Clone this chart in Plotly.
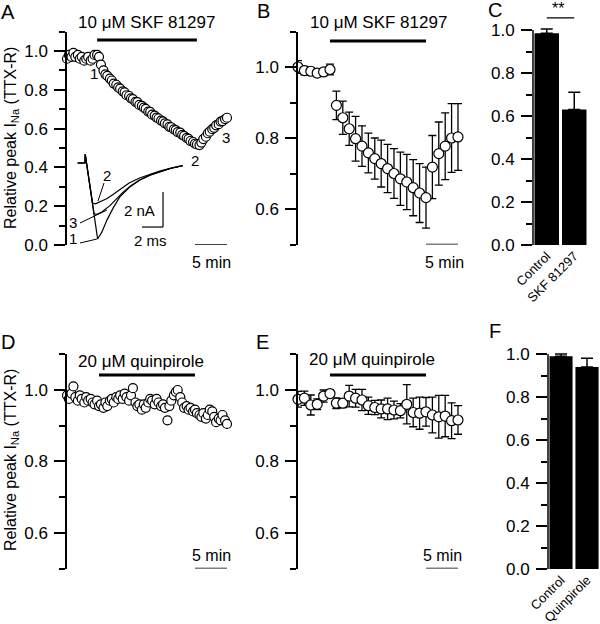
import plotly.graph_objs as go

FONT = "Arial, Liberation Sans, sans-serif"
W, H = 600, 624

# ---------------- data ----------------
# A: one cell, 10 uM SKF 81297 (min, relative peak INa)
time_cell = [0.0, 0.3, 0.7, 1.0, 1.3, 1.7, 2.0, 2.3, 2.7, 3.0, 3.3, 3.7, 4.0, 4.3, 4.7,
             5.0, 5.3, 5.7, 6.0, 6.3, 6.7, 7.0, 7.3, 7.7, 8.0, 8.3, 8.7, 9.0, 9.3, 9.7,
             10.0, 10.3, 10.7, 11.0, 11.3, 11.7, 12.0, 12.3, 12.7, 13.0, 13.3, 13.7, 14.0, 14.3, 14.7,
             15.0, 15.3, 15.7, 16.0, 16.3, 16.7, 17.0, 17.3, 17.7, 18.0, 18.3, 18.7, 19.0, 19.3, 19.7,
             20.0, 20.3, 20.7, 21.0, 21.3, 21.7, 22.0, 22.3, 22.7, 23.0, 23.3, 23.7, 24.0, 24.3, 24.7, 25.0]
skf_cell = [0.96, 0.98, 0.97, 0.99, 0.97, 0.98, 0.96, 0.97, 0.95, 0.96, 0.97, 0.95, 0.96, 0.98, 0.98,
            0.97, 0.93, 0.90, 0.88, 0.872, 0.858, 0.848, 0.832, 0.826, 0.812, 0.806, 0.792, 0.787, 0.772, 0.768,
            0.756, 0.752, 0.738, 0.736, 0.722, 0.717, 0.708, 0.702, 0.688, 0.686, 0.672, 0.667, 0.657, 0.652, 0.641,
            0.637, 0.627, 0.622, 0.609, 0.607, 0.596, 0.592, 0.582, 0.579, 0.568, 0.562, 0.552, 0.547, 0.536, 0.531,
            0.522, 0.518, 0.515, 0.528, 0.546, 0.558, 0.576, 0.584, 0.597, 0.604, 0.617, 0.623, 0.636, 0.639, 0.649, 0.656]

# A inset: TTX-R currents at time points 1, 2, 3 (ms, nA)
trace1_ms = [-0.7, 0.0, 0.02, 1.2, 1.6, 2.1, 2.7, 3.3, 4.2, 5.2, 6.2, 7.1, 8.2, 9.3]
trace1_na = [0.0, 0.0, 0.5, -4.34, -3.95, -3.25, -2.55, -1.95, -1.4, -0.98, -0.7, -0.5, -0.3, -0.15]
trace2_ms = [-0.7, 0.0, 0.02, 0.72, 1.0, 1.5, 2.1, 2.7, 3.3, 4.2, 5.2, 6.2, 7.1, 8.2, 9.3]
trace2_na = [0.0, 0.0, 0.5, -2.29, -2.33, -2.2, -2.03, -1.78, -1.52, -1.14, -0.86, -0.63, -0.46, -0.29, -0.15]
trace3_ms = [-0.7, 0.0, 0.02, 0.86, 1.15, 1.6, 2.4, 3.0, 3.6, 4.4, 5.2, 6.2, 7.1, 8.2, 9.3]
trace3_na = [0.0, 0.0, 0.5, -2.9, -2.93, -2.8, -2.42, -2.05, -1.68, -1.28, -0.97, -0.68, -0.49, -0.3, -0.15]

# B: pooled SKF 81297 (mean +/- sem)
time_pool = [0, 1, 2, 3, 4, 5, 6, 7, 8, 9, 10, 11, 12, 13, 14, 15, 16, 17, 18, 19, 20, 21, 22, 23, 24, 25]
skf_mean = [1.0, 0.99, 0.988, 0.983, 0.986, 0.993, 0.892, 0.857, 0.826, 0.798, 0.777, 0.758, 0.742,
            0.728, 0.714, 0.70, 0.685, 0.676, 0.66, 0.645, 0.632, 0.718, 0.756, 0.777, 0.80, 0.803]
skf_sem = [0.018, 0.012, 0.01, 0.01, 0.01, 0.015, 0.04, 0.047, 0.047, 0.063, 0.057, 0.056, 0.058,
           0.066, 0.068, 0.07, 0.075, 0.078, 0.079, 0.083, 0.086, 0.089, 0.089, 0.094, 0.097, 0.094]

# C: summary SKF 81297
bar_names_c = ["Control", "SKF 81297"]
bar_vals_c = [0.985, 0.63]
bar_err_c = [0.02, 0.08]

# D: one cell, 20 uM quinpirole
quin_cell = [0.985, 0.975, 0.99, 1.01, 0.98, 0.97, 0.985, 0.975, 0.965, 0.98, 0.97, 0.975, 0.965, 0.96, 0.97,
             0.955, 0.96, 0.95, 0.965, 0.955, 0.97, 0.975, 0.965, 0.98, 0.975, 0.985, 0.975, 0.99, 0.98, 0.97,
             0.985, 1.005, 0.965, 0.955, 0.96, 0.945, 0.96, 0.95, 0.965, 0.975, 0.97, 0.96, 0.975, 0.965, 0.955,
             0.96, 0.95, 0.915, 0.955, 0.97, 0.985, 0.995, 1.0, 0.98, 0.965, 0.95, 0.955, 0.945, 0.95, 0.94,
             0.945, 0.935, 0.93, 0.925, 0.935, 0.92, 0.93, 0.945, 0.94, 0.925, 0.91, 0.92, 0.915, 0.93, 0.915, 0.905]

# E: pooled quinpirole
quin_mean = [0.974, 0.977, 0.958, 0.96, 0.983, 0.99, 0.963, 0.963, 0.983, 0.977, 0.972, 0.956, 0.951,
             0.947, 0.947, 0.944, 0.942, 0.96, 0.937, 0.935, 0.939, 0.93, 0.925, 0.927, 0.914, 0.916]
quin_sem = [0.022, 0.02, 0.028, 0.015, 0.017, 0.01, 0.015, 0.012, 0.03, 0.025, 0.03, 0.024, 0.02,
            0.025, 0.03, 0.025, 0.02, 0.055, 0.04, 0.045, 0.04, 0.05, 0.06, 0.058, 0.05, 0.04]

# F: summary quinpirole
bar_names_f = ["Control", "Quinpirole"]
bar_vals_f = [0.99, 0.94]
bar_err_f = [0.01, 0.04]


def px(x):
    return x / W


def py(y):
    return 1 - y / H


def open_circles(x, y, xa, ya, size, err=None):
    tr = go.Scatter(x=x, y=y, mode='markers', xaxis=xa, yaxis=ya, cliponaxis=False,
                    marker=dict(symbol='circle', size=size, color='white',
                                line=dict(color='black', width=1.2)))
    if err is not None:
        tr.error_y = dict(type='data', array=err, color='black', thickness=1.3, width=4)
    return tr


def yax(domain, rng, anchor, major, minor, line=True):
    return dict(domain=domain, range=rng, anchor=anchor, showline=line, linecolor='black',
                linewidth=1.5, ticks='outside', ticklen=11, tickwidth=1.5, tickcolor='black',
                tickmode='array', tickvals=major, ticktext=['%.1f' % v for v in major],
                showgrid=False, zeroline=False, automargin=False, ticklabelstandoff=3,
                tickfont=dict(size=17, color='black', family=FONT),
                minor=dict(tickmode='array', tickvals=minor, ticks='outside', ticklen=6,
                           tickwidth=1.5, tickcolor='black', showgrid=False))


def seg(x0, y0, x1, y1, xref='paper', yref='paper', width=1.5):
    return dict(type='line', x0=x0, y0=y0, x1=x1, y1=y1, xref=xref, yref=yref,
                line=dict(color='black', width=width))


def txt(text, x, y, size=16, **kw):
    d = dict(text=text, x=px(x), y=py(y), xref='paper', yref='paper', showarrow=False,
             font=dict(size=size, color='black', family=FONT), xanchor='center', yanchor='middle')
    d.update(kw)
    return d


traces = [
    open_circles(time_cell, skf_cell, 'x', 'y', 9),
    open_circles(time_pool, skf_mean, 'x2', 'y2', 10, skf_sem),
    open_circles(time_cell, quin_cell, 'x4', 'y4', 9),
    open_circles(time_pool, quin_mean, 'x5', 'y5', 10, quin_sem),
]
for t_ms, i_na in [(trace1_ms, trace1_na), (trace3_ms, trace3_na), (trace2_ms, trace2_na)]:
    traces.append(go.Scatter(x=t_ms, y=i_na, mode='lines', xaxis='x7', yaxis='y7',
                             line=dict(color='black', width=1.2)))
for names, vals, err, xa, ya in [(bar_names_c, bar_vals_c, bar_err_c, 'x3', 'y3'),
                                 (bar_names_f, bar_vals_f, bar_err_f, 'x6', 'y6')]:
    traces.append(go.Bar(x=[0, 1], y=vals, xaxis=xa, yaxis=ya, width=0.89, cliponaxis=False,
                         marker=dict(color='black', line=dict(width=0)),
                         error_y=dict(type='data', array=err, arrayminus=[0, 0], symmetric=False,
                                      color='black', thickness=1.5, width=6)))

fig = go.Figure(data=traces)

tick_full = [0.0, 0.2, 0.4, 0.6, 0.8, 1.0]
minor_full = [0.1, 0.3, 0.5, 0.7, 0.9, 1.1]
tick_part = [0.6, 0.8, 1.0]
minor_part = [0.5, 0.7, 0.9, 1.1]
hidden = dict(visible=False, showgrid=False, zeroline=False)


def bar_x(domain, anchor, names):
    return dict(domain=domain, range=[-0.5, 1.5], anchor=anchor, showline=False, ticks='',
                tickangle=-45, tickmode='array', tickvals=[0, 1], ticktext=names,
                showgrid=False, zeroline=False, automargin=False,
                tickfont=dict(size=13, color='black', family=FONT))


fig.update_layout(
    width=W, height=H, margin=dict(l=0, r=0, t=0, b=0),
    paper_bgcolor='white', plot_bgcolor='white', showlegend=False,
    font=dict(family=FONT, color='black'),
    xaxis=dict(domain=[px(67), px(233)], range=[0, 25.94], anchor='y', **hidden),
    yaxis=yax([py(245), py(31.6)], [0, 1.1], 'x', tick_full, minor_full),
    xaxis2=dict(domain=[px(298), px(464)], range=[0, 25.94], anchor='y2', **hidden),
    yaxis2=yax([py(244.5), py(31.5)], [0.5, 1.1], 'x2', tick_part, minor_part),
    xaxis3=bar_x([px(533), px(588)], 'y3', bar_names_c),
    yaxis3=yax([py(245), py(8.5)], [0, 1.1], 'x3', tick_full, minor_full[:-1], line=False),
    xaxis4=dict(domain=[px(67), px(233)], range=[0, 25.94], anchor='y4', **hidden),
    yaxis4=yax([py(568.5), py(354.3)], [0.5, 1.1], 'x4', tick_part, minor_part),
    xaxis5=dict(domain=[px(298), px(464)], range=[0, 25.94], anchor='y5', **hidden),
    yaxis5=yax([py(568.5), py(354.3)], [0.5, 1.1], 'x5', tick_part, minor_part),
    xaxis6=bar_x([px(548), 1.0], 'y6', bar_names_f),
    yaxis6=yax([py(569), py(332.5)], [0, 1.1], 'x6', tick_full, minor_full[:-1], line=False),
    # inset for current traces
    xaxis7=dict(domain=[px(70), px(190)], range=[-1.43, 10.0], anchor='y7', **hidden),
    yaxis7=dict(domain=[py(245), py(150)], range=[-4.686, 0.743], anchor='x7', **hidden),
)

shapes = [
    # drug application bars
    seg(4.7, 1.057, 20.3, 1.057, 'x', 'y', 3),
    seg(5, 1.073, 20, 1.073, 'x2', 'y2', 3),
    seg(5, 1.042, 20, 1.042, 'x4', 'y4', 3),
    seg(5, 1.042, 20, 1.042, 'x5', 'y5', 3),
    # 5 min scale bars
    seg(20, 0.0, 25, 0.0, 'x', 'y'),
    seg(20, 0.5, 25, 0.5, 'x2', 'y2'),
    seg(20, 0.5, 25, 0.5, 'x4', 'y4'),
    seg(20, 0.5, 25, 0.5, 'x5', 'y5'),
    # bar chart axis lines
    seg(px(533), 0, px(533), 1.0, 'paper', 'y3'),
    seg(px(548), 0, px(548), 1.0, 'paper', 'y6'),
    # significance line
    seg(0, 1.056, 1, 1.056, 'x3', 'y3', 1.2),
    # inset scale bars: 2 ms, 2 nA
    seg(5.43, -3.66, 7.43, -3.66, 'x7', 'y7', 1.2),
    seg(7.43, -3.66, 7.43, -1.66, 'x7', 'y7', 1.2),
    # inset leader lines
    seg(px(80), py(243), px(97), py(239), width=1),
    seg(px(80), py(223), px(107), py(210), width=1),
    seg(px(104), py(183), px(98), py(201), width=1),
]

yt = "Relative peak I<sub>Na</sub> (TTX-R)"
annotations = [
    txt("A", 8, 12, 20), txt("B", 263, 11, 20), txt("C", 495, 10, 20),
    txt("D", 8, 342, 20), txt("E", 262, 342, 20), txt("F", 495, 331, 20),
    txt(yt, 11, 138, 16, textangle=-90), txt(yt, 11, 460, 16, textangle=-90),
    txt("10 μM SKF 81297", 146, 23, 17), txt("10 μM SKF 81297", 378, 23, 17),
    txt("20 μM quinpirole", 141, 361, 17), txt("20 μM quinpirole", 372, 360, 17),
    txt("5 min", 211, 262), txt("5 min", 444, 262),
    txt("5 min", 211, 555), txt("5 min", 442, 555),
    txt("**", 558, 9, 16),
    # time points in A
    txt("1", 94, 73, 15), txt("2", 195, 160, 15), txt("3", 226, 137, 15),
    # inset labels
    txt("1", 73, 238, 15), txt("3", 73, 222, 15), txt("2", 107, 175, 15),
    txt("2 nA", 139, 210, 15), txt("2 ms", 150, 241, 15),
]

fig.update_layout(shapes=shapes, annotations=annotations)

# the page body has an 8px default margin; drop it so the figure sits at 0,0
fig.write_html("out.html", config={'displayModeBar': False},
               post_script="document.body.style.margin='0px';")
